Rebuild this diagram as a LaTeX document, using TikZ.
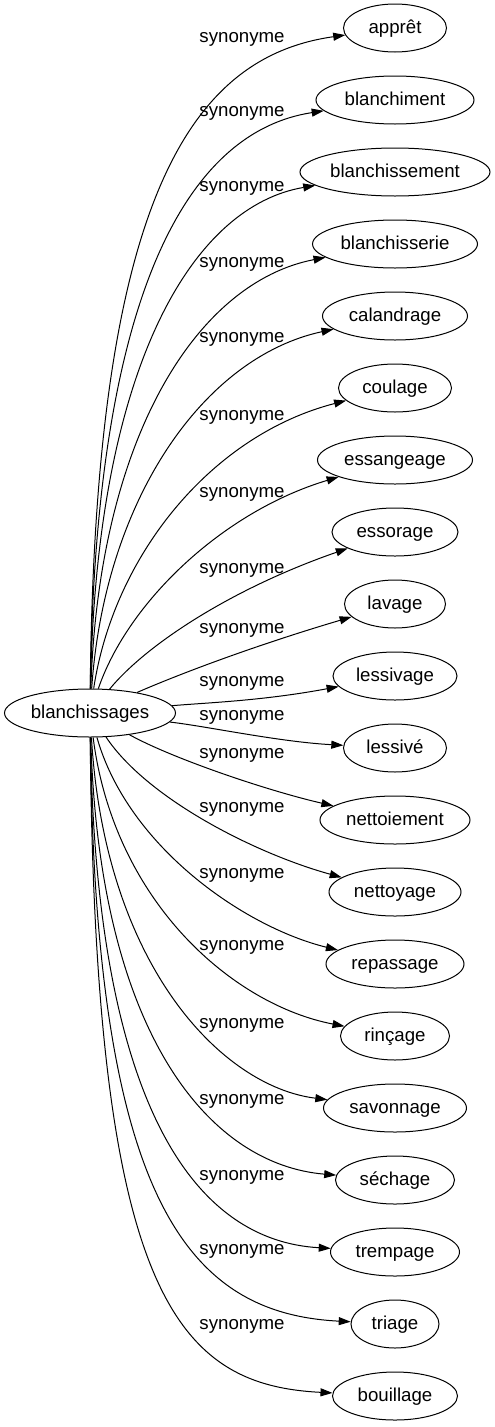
\documentclass[tikz,border=0pt]{standalone}
\usepackage{fontspec}
\setmainfont{Liberation Sans}
\usetikzlibrary{arrows.meta,shapes.geometric}

\begin{document}
\begin{tikzpicture}[x=1pt, y=1pt,
    font=\fontsize{18.67}{22}\selectfont,
    wordbox/.style={ellipse, draw, line width=1pt, inner sep=0pt,
      minimum height=48pt, text height=14.5pt, text depth=3.5pt},
    synlabel/.style={inner sep=0pt, anchor=base},
    synedge/.style={line width=1pt, -{Triangle[length=12pt,width=8pt]}}]
  \useasboundingbox (0,0) rectangle (495,-1427);

  \node[wordbox, minimum width=171pt] (mot) at (90,-713) {blanchissages};

  % targets: index / word / ellipse width / label y
  \foreach \i/\word/\w/\ly in {
      0/apprêt/103/38, 1/blanchiment/158/112, 2/blanchissement/190/187,
      3/blanchisserie/165/263, 4/calandrage/145/338, 5/coulage/113/416,
      6/essangeage/155/493, 7/essorage/126/569, 8/lavage/101/629,
      9/lessivage/124/682, 10/lessivé/103/716, 11/nettoiement/150/754,
      12/nettoyage/132/808, 13/repassage/138/874, 14/rinçage/109/946,
      15/savonnage/143/1024, 16/séchage/119/1100, 17/trempage/129/1176,
      18/triage/88/1250, 19/bouillage/125/1325} {
    \pgfmathsetmacro\yt{28+72*\i}
    \node[wordbox, minimum width=\w pt] (syn\i) at (395,-\yt) {\word};
    \node[synlabel] (lbl\i) at (242,{-\ly-4}) {synonyme};
    % control points of the edge
    \pgfmathsetmacro\d{\yt-713}
    \pgfmathsetmacro\r{abs(\d)/685}
    \pgfmathsetmacro\ax{95+130*(1-\r)^3}
    \pgfmathsetmacro\ay{\d<0 ? 713+\d*(0.25+0.5*\r) : 713+\d*(0.35+0.5*\r)}
    \pgfmathsetmacro\bx{\d<0 ? 190+80*(1-\r)^2 : 175+110*(1-\r)}
    \pgfmathsetmacro\by{\d<0 ? \ly+19 : \ly+20+40*\r+80*\r*(1-\r)}
    \draw[synedge] (mot) .. controls (\ax,-\ay) and (\bx,-\by) .. (syn\i);
  }
\end{tikzpicture}
\end{document}
